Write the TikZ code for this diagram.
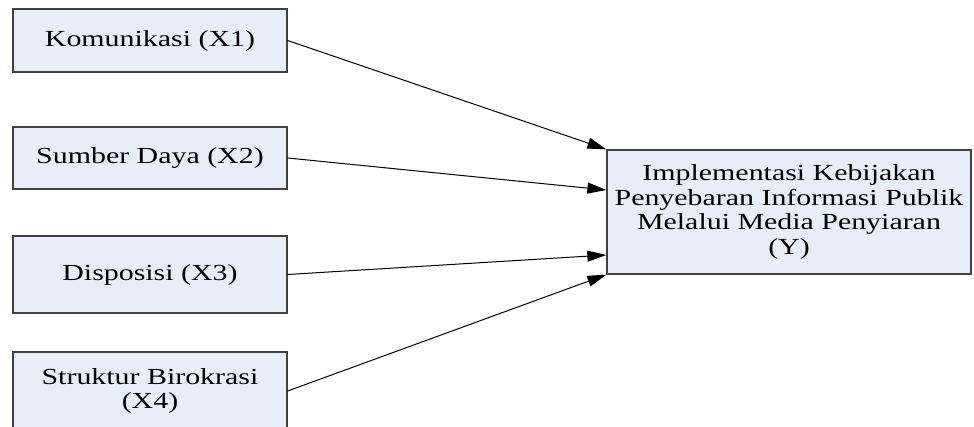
\documentclass[tikz,border=0pt]{standalone}
\usepackage{fontspec}
\setmainfont{Liberation Serif}
\newfontfamily\tnr[FakeStretch=1.3]{Liberation Serif}
\usetikzlibrary{arrows.meta}
\definecolor{boxfill}{HTML}{E8EEF8}
\definecolor{boxline}{HTML}{404040}
\tikzset{
  varbox/.style={draw=boxline, line width=1.3pt, fill=boxfill, rectangle, inner sep=0pt,
    font=\tnr\fontsize{23}{24.6}\selectfont, align=center, text=black},
  conn/.style={line width=1pt, -{Triangle[length=19pt,width=11pt]}}
}
\begin{document}
\begin{tikzpicture}[x=1pt,y=-1pt]
\useasboundingbox (0,0) rectangle (974,427);
\node[varbox, minimum width=274pt, minimum height=63pt] (b1) at (150,40.5) {Komunikasi (X1)};
\node[varbox, minimum width=274pt, minimum height=62pt] (b2) at (150,158) {Sumber Daya (X2)};
\node[varbox, minimum width=274pt, minimum height=77pt] (b3) at (150,274.5) {Disposisi (X3)};
\node[varbox, minimum width=274pt, minimum height=78pt] (b4) at (150,391) {Struktur Birokrasi\\(X4)};
\node[varbox, minimum width=364pt, minimum height=124pt] (y) at (789,212) {Implementasi Kebijakan\\Penyebaran Informasi Publik\\Melalui Media Penyiaran\\(Y)};
\coordinate (t2) at (y.west |- 0,190);
\coordinate (t3) at (y.west |- 0,255);
\draw[conn] (b1.east) -- (y.north west);
\draw[conn] (b2.east) -- (t2);
\draw[conn] (b3.east) -- (t3);
\draw[conn] (b4.east) -- (y.south west);
\end{tikzpicture}
\end{document}
